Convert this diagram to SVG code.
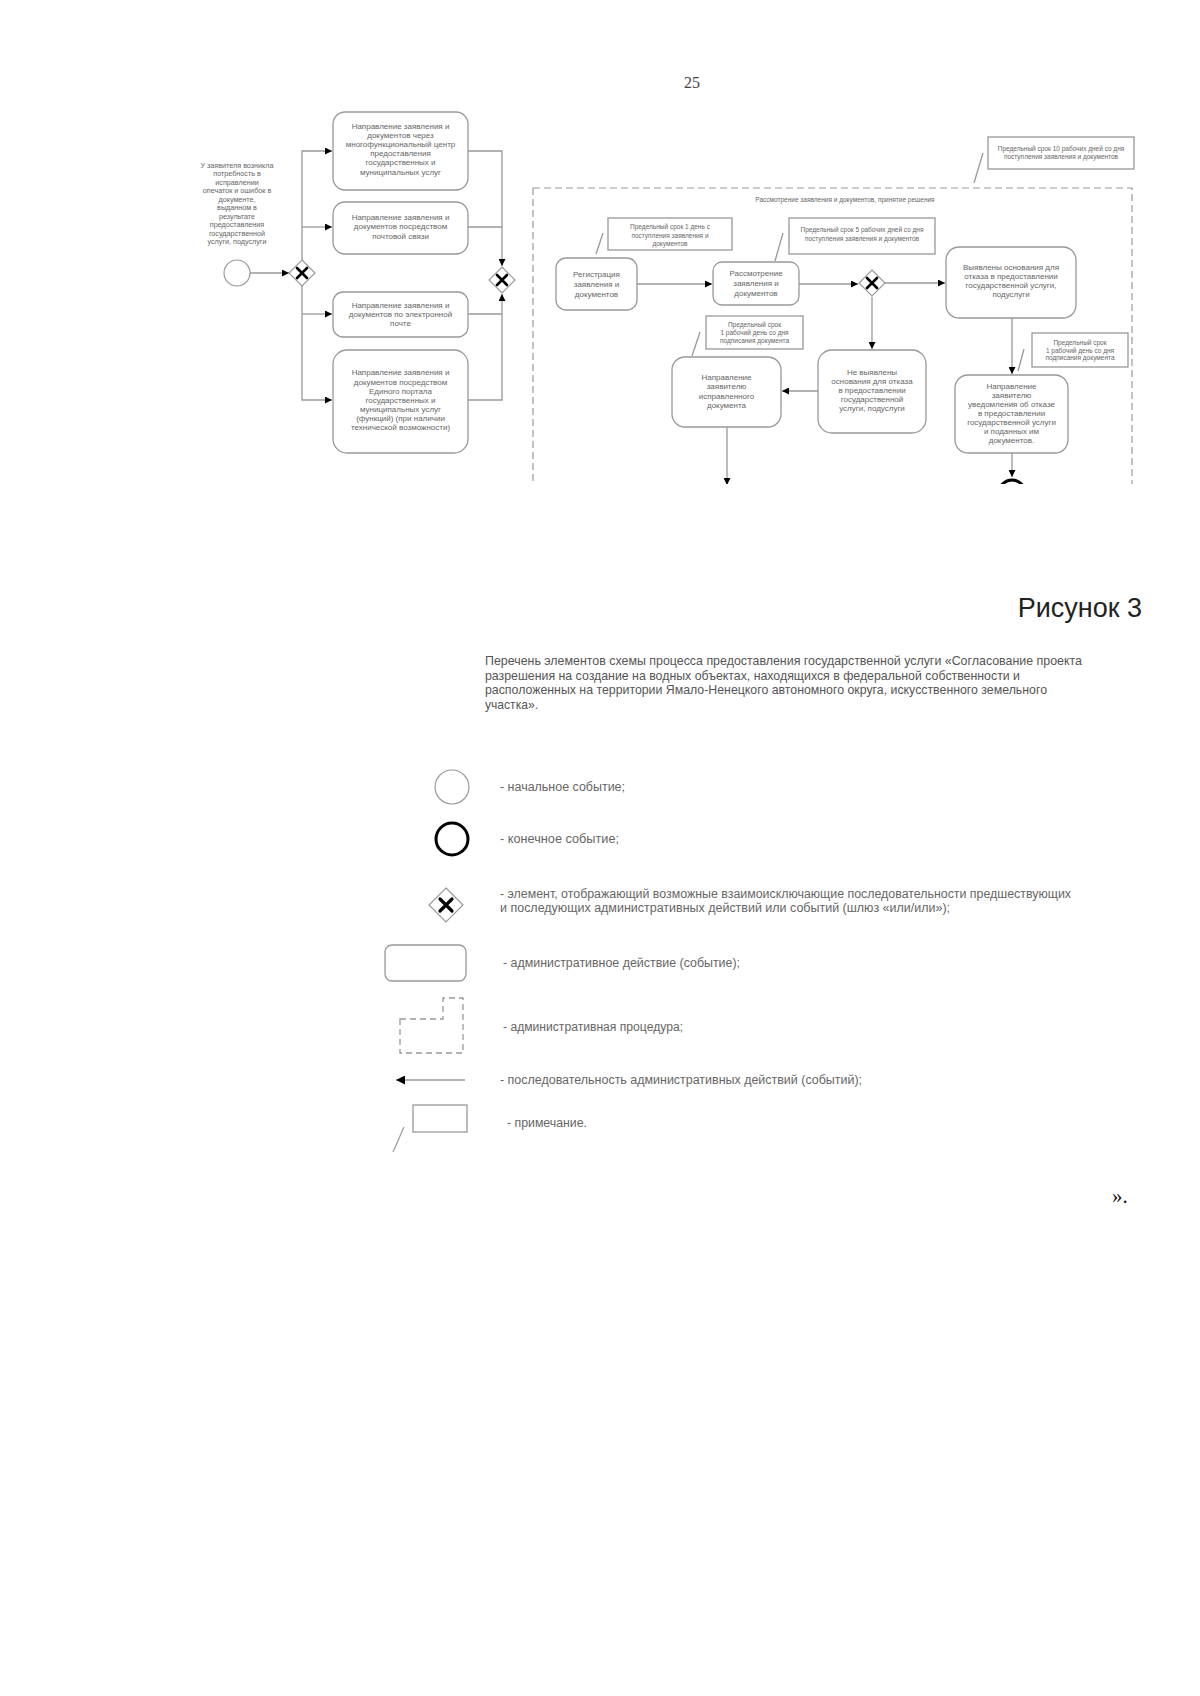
<svg xmlns="http://www.w3.org/2000/svg" width="1200" height="1696" viewBox="0 0 1200 1696">
<defs>
<marker id="ah" viewBox="0 0 8 8" refX="8" refY="4" markerWidth="7" markerHeight="7" markerUnits="userSpaceOnUse" orient="auto"><path d="M0,0 L8,4 L0,8 z" fill="#000"/></marker>
<marker id="ahL" viewBox="0 0 8 8" refX="8" refY="4" markerWidth="9" markerHeight="9" markerUnits="userSpaceOnUse" orient="auto"><path d="M0,0 L8,4 L0,8 z" fill="#000"/></marker>
<clipPath id="page"><rect x="0" y="0" width="1200" height="484"/></clipPath>
</defs>
<style>
.box{fill:#fff;stroke:#999;stroke-width:1.3}
.note{fill:#fff;stroke:#999;stroke-width:1.3}
.ln{fill:none;stroke:#999;stroke-width:1.3}
.arr{fill:none;stroke:#999;stroke-width:1.3;marker-end:url(#ah)}
.gw{fill:#fff;stroke:#999;stroke-width:1.2}
.gx{stroke:#000;stroke-width:2.6;stroke-linecap:round}
.t8{font-family:"Liberation Sans",Arial,sans-serif;font-size:8px;fill:#666;text-anchor:middle}
.t7{font-family:"Liberation Sans",Arial,sans-serif;font-size:7.2px;fill:#666;text-anchor:middle}
.t6{font-family:"Liberation Sans",Arial,sans-serif;font-size:6.5px;fill:#666;text-anchor:middle}
.lg{font-family:"Liberation Sans",Arial,sans-serif;font-size:12px;fill:#666}
.ti{font-family:"Liberation Sans",Arial,sans-serif;font-size:13px;fill:#555}
</style>
<rect width="1200" height="1696" fill="#fff"/>

<text x="692" y="88" font-family="Liberation Serif,Times New Roman,serif" font-size="16" fill="#444" text-anchor="middle">25</text>

<g id="connectors">
<line class="arr" x1="250" y1="273" x2="289" y2="273"/>
<polyline class="arr" points="302,260 302,151 332,151"/>
<polyline class="arr" points="302,227 332,227"/>
<polyline class="arr" points="302,286 302,400 332,400"/>
<polyline class="arr" points="302,314 332,314"/>
<polyline class="arr" points="468,151 502,151 502,266"/>
<polyline class="ln" points="468,227 502,227"/>
<polyline class="arr" points="468,400 502,400 502,294"/>
<polyline class="ln" points="468,314 502,314"/>
<line class="arr" x1="637" y1="284" x2="712" y2="284"/>
<line class="arr" x1="799" y1="284" x2="858" y2="284"/>
<line class="arr" x1="885" y1="283" x2="945" y2="283"/>
<line class="arr" x1="872" y1="297" x2="872" y2="349"/>
<line class="arr" x1="1012" y1="318" x2="1012" y2="374"/>
<line class="arr" x1="818" y1="391" x2="782" y2="391"/>
<g clip-path="url(#page)">
<line class="arr" x1="727" y1="427" x2="727" y2="485"/>
<line class="arr" x1="1012" y1="453" x2="1012" y2="477"/>
</g>
<line class="ln" x1="603" y1="233" x2="596" y2="254"/>
<line class="ln" x1="783" y1="233" x2="775" y2="261"/>
<line class="ln" x1="983" y1="153" x2="974" y2="183"/>
<line class="ln" x1="700" y1="332" x2="692" y2="356"/>
<line class="ln" x1="1024" y1="349" x2="1018" y2="371"/>
</g>

<g id="label-start">
<text class="t7"><tspan x="237" y="167.5">У заявителя возникла</tspan><tspan x="237" y="176">потребность в</tspan><tspan x="237" y="184.5">исправлении</tspan><tspan x="237" y="193">опечаток и ошибок в</tspan><tspan x="237" y="201.5">документе,</tspan><tspan x="237" y="210">выданном в</tspan><tspan x="237" y="218.5">результате</tspan><tspan x="237" y="227">предоставления</tspan><tspan x="237" y="235.5">государственной</tspan><tspan x="237" y="244">услуги, подуслуги</tspan></text>
</g>
<g id="start"><circle cx="237" cy="273" r="13" fill="#fff" stroke="#999" stroke-width="1.2"/></g>
<g id="gw1"><path class="gw" d="M302,260 L315,273 L302,286 L289,273 Z"/><path class="gx" d="M297,268 L307,278 M307,268 L297,278"/></g>
<g id="gw2"><path class="gw" d="M502,267 L515,280 L502,293 L489,280 Z"/><path class="gx" d="M497,275 L507,285 M507,275 L497,285"/></g>

<g id="box1"><rect class="box" x="333" y="112" width="135" height="78" rx="12"/>
<text class="t8"><tspan x="400.5" y="129">Направление заявления и</tspan><tspan x="400.5" y="138">документов через</tspan><tspan x="400.5" y="147">многофункциональный центр</tspan><tspan x="400.5" y="156">предоставления</tspan><tspan x="400.5" y="165">государственных и</tspan><tspan x="400.5" y="174.5">муниципальных услуг</tspan></text></g>
<g id="box2"><rect class="box" x="333" y="202" width="135" height="52" rx="12"/>
<text class="t8"><tspan x="400.5" y="220">Направление заявления и</tspan><tspan x="400.5" y="229">документов посредством</tspan><tspan x="400.5" y="239">почтовой связи</tspan></text></g>
<g id="box3"><rect class="box" x="333" y="292" width="135" height="45" rx="10"/>
<text class="t8"><tspan x="400.5" y="308">Направление заявления и</tspan><tspan x="400.5" y="317">документов по электронной</tspan><tspan x="400.5" y="326">почте</tspan></text></g>
<g id="box4"><rect class="box" x="333" y="350" width="135" height="103" rx="14"/>
<text class="t8"><tspan x="400.5" y="375">Направление заявления и</tspan><tspan x="400.5" y="384.5">документов посредством</tspan><tspan x="400.5" y="394">Единого портала</tspan><tspan x="400.5" y="403">государственных и</tspan><tspan x="400.5" y="412">муниципальных услуг</tspan><tspan x="400.5" y="421">(функций) (при наличии</tspan><tspan x="400.5" y="430">технической возможности)</tspan></text></g>

<g id="procedure">
<g clip-path="url(#page)"><rect x="533" y="188" width="599" height="400" fill="none" stroke="#999" stroke-width="1.2" stroke-dasharray="7,4"/></g>
<text class="t6" x="845" y="201.5">Рассмотрение заявления и документов, принятие решения</text>
</g>

<g id="note3"><rect class="note" x="988" y="137" width="146" height="32"/>
<text class="t6"><tspan x="1061" y="150.5">Предельный срок 10 рабочих дней со дня</tspan><tspan x="1061" y="159">поступления заявления и документов</tspan></text></g>
<g id="note1"><rect class="note" x="608" y="218" width="124" height="32"/>
<text class="t6"><tspan x="670" y="229">Предельный срок 1 день с</tspan><tspan x="670" y="237.5">поступления заявления и</tspan><tspan x="670" y="246">документов</tspan></text></g>
<g id="note2"><rect class="note" x="789" y="218" width="146" height="36"/>
<text class="t6"><tspan x="862" y="232">Предельный срок 5 рабочих дней со дня</tspan><tspan x="862" y="241">поступления заявления и документов</tspan></text></g>
<g id="reg"><rect class="box" x="556" y="258" width="81" height="52" rx="10"/>
<text class="t8"><tspan x="596.5" y="277">Регистрация</tspan><tspan x="596.5" y="287">заявления и</tspan><tspan x="596.5" y="297">документов</tspan></text></g>
<g id="rassm"><rect class="box" x="713" y="262" width="86" height="43" rx="9"/>
<text class="t8"><tspan x="756" y="276">Рассмотрение</tspan><tspan x="756" y="286">заявления и</tspan><tspan x="756" y="296">документов</tspan></text></g>
<g id="gw3"><path class="gw" d="M872,270 L885,283 L872,296 L859,283 Z"/><path class="gx" d="M867,278 L877,288 M877,278 L867,288"/></g>
<g id="vyyav"><rect class="box" x="946" y="247" width="130" height="71" rx="13"/>
<text class="t8"><tspan x="1011" y="269.5">Выявлены основания для</tspan><tspan x="1011" y="278.5">отказа в предоставлении</tspan><tspan x="1011" y="287.5">государственной услуги,</tspan><tspan x="1011" y="296.5">подуслуги</tspan></text></g>
<g id="note4"><rect class="note" x="706" y="316" width="97" height="33"/>
<text class="t6"><tspan x="754.5" y="327">Предельный срок</tspan><tspan x="754.5" y="335">1 рабочий день со дня</tspan><tspan x="754.5" y="343">подписания документа</tspan></text></g>
<g id="napr-ispr"><rect class="box" x="672" y="357" width="109" height="70" rx="13"/>
<text class="t8"><tspan x="726.5" y="379.5">Направление</tspan><tspan x="726.5" y="389">заявителю</tspan><tspan x="726.5" y="398.5">исправленного</tspan><tspan x="726.5" y="408">документа</tspan></text></g>
<g id="ne-vyyav"><rect class="box" x="818" y="350" width="108" height="83" rx="14"/>
<text class="t8"><tspan x="872" y="374.5">Не выявлены</tspan><tspan x="872" y="383.5">основания для отказа</tspan><tspan x="872" y="392.5">в предоставлении</tspan><tspan x="872" y="401.5">государственной</tspan><tspan x="872" y="411">услуги, подуслуги</tspan></text></g>
<g id="note5"><rect class="note" x="1032" y="333" width="96" height="34"/>
<text class="t6"><tspan x="1080" y="345">Предельный срок</tspan><tspan x="1080" y="352.5">1 рабочий день со дня</tspan><tspan x="1080" y="360">подписания документа</tspan></text></g>
<g id="napr-otkaz"><rect class="box" x="955" y="375" width="113" height="78" rx="13"/>
<text class="t8"><tspan x="1011.5" y="388.5">Направление</tspan><tspan x="1011.5" y="397.5">заявителю</tspan><tspan x="1011.5" y="406.5">уведомления об отказе</tspan><tspan x="1011.5" y="415.5">в предоставлении</tspan><tspan x="1011.5" y="424.5">государственной услуги</tspan><tspan x="1011.5" y="433.5">и поданных им</tspan><tspan x="1011.5" y="442.5">документов.</tspan></text></g>
<g id="end" clip-path="url(#page)"><circle cx="1012" cy="493" r="13" fill="#fff" stroke="#000" stroke-width="3"/></g>

<text x="1142" y="617" font-family="Liberation Sans,Arial,sans-serif" font-size="27" fill="#222" text-anchor="end">Рисунок 3</text>

<g id="title">
<text class="ti" x="485" y="665" textLength="597" lengthAdjust="spacingAndGlyphs">Перечень элементов схемы процесса предоставления государственной услуги «Согласование проекта</text>
<text class="ti" x="485" y="680" textLength="535" lengthAdjust="spacingAndGlyphs">разрешения на создание на водных объектах, находящихся в федеральной собственности и</text>
<text class="ti" x="485" y="694" textLength="562" lengthAdjust="spacingAndGlyphs">расположенных на территории Ямало-Ненецкого автономного округа, искусственного земельного</text>
<text class="ti" x="485" y="709" textLength="53" lengthAdjust="spacingAndGlyphs">участка».</text>
</g>

<g id="legend">
<circle cx="452" cy="787" r="17" fill="#fff" stroke="#999" stroke-width="1.2"/>
<text class="lg" x="500" y="791" textLength="125" lengthAdjust="spacingAndGlyphs">- начальное событие;</text>
<circle cx="452" cy="839" r="16" fill="#fff" stroke="#000" stroke-width="3"/>
<text class="lg" x="500" y="843" textLength="119" lengthAdjust="spacingAndGlyphs">- конечное событие;</text>
<path d="M446,888 L463,905 L446,922 L429,905 Z" fill="#fff" stroke="#999" stroke-width="1.2"/>
<path d="M440,899 L452,911 M452,899 L440,911" stroke="#000" stroke-width="3.2" stroke-linecap="round"/>
<text class="lg" x="500" y="898" textLength="571" lengthAdjust="spacingAndGlyphs">- элемент, отображающий возможные взаимоисключающие последовательности предшествующих</text>
<text class="lg" x="500" y="912" textLength="450" lengthAdjust="spacingAndGlyphs">и последующих административных действий или событий (шлюз «или/или»);</text>
<rect x="385" y="945" width="81" height="36" rx="7" fill="#fff" stroke="#999" stroke-width="1.3"/>
<text class="lg" x="503" y="967" textLength="237" lengthAdjust="spacingAndGlyphs">- административное действие (событие);</text>
<path d="M400,1019 H443 V998 H463 V1053 H400 Z" fill="none" stroke="#999" stroke-width="1.3" stroke-dasharray="6,4"/>
<text class="lg" x="503" y="1031" textLength="180" lengthAdjust="spacingAndGlyphs">- административная процедура;</text>
<line x1="465" y1="1080" x2="396" y2="1080" stroke="#999" stroke-width="1.3" marker-end="url(#ahL)"/>
<text class="lg" x="500" y="1084" textLength="362" lengthAdjust="spacingAndGlyphs">- последовательность административных действий (событий);</text>
<rect x="413" y="1105" width="54" height="27" fill="#fff" stroke="#999" stroke-width="1.3"/>
<line x1="404" y1="1127" x2="393" y2="1152" stroke="#999" stroke-width="1.2"/>
<text class="lg" x="507" y="1127" textLength="80" lengthAdjust="spacingAndGlyphs">- примечание.</text>
</g>

<text x="1112" y="1203" font-family="Liberation Serif,Times New Roman,serif" font-size="21" fill="#111">».</text>
</svg>
